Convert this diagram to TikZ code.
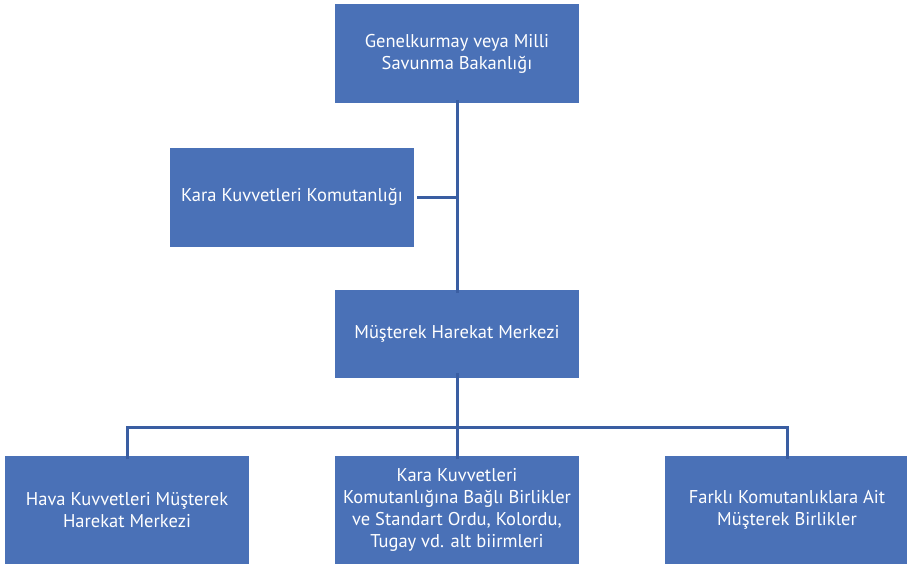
\documentclass[tikz,border=0pt]{standalone}
\usepackage{fontspec}
\setmainfont{PT Sans}
\definecolor{boxblue}{HTML}{4A71B7}
\definecolor{linkblue}{HTML}{3A5EA2}
\begin{document}
\begin{tikzpicture}[x=1pt,y=-1pt,
  unit/.style={fill=boxblue, draw=none, text=white, minimum width=244pt,
    align=center, font=\fontsize{18.5}{22}\selectfont, inner sep=0pt},
  link/.style={draw=linkblue, line width=3pt}]
  \useasboundingbox (0,0) rectangle (907,567);
  % boxes
  \node[unit, minimum height=99pt] (gk) at (457,53.5) {Genelkurmay veya Milli\\Savunma Bakanlığı};
  \node[unit, minimum height=99pt] (kkk) at (292,197) {Kara Kuvvetleri Komutanlığı};
  \node[unit, minimum height=88pt] (mhm) at (457,334) {Müşterek Harekat Merkezi};
  \node[unit, minimum height=108pt] (hava) at (127,510) {Hava Kuvvetleri Müşterek\\Harekat Merkezi};
  \node[unit, minimum height=108pt] (kara) at (457,510) {Kara Kuvvetleri\\Komutanlığına Bağlı Birlikler\\ve Standart Ordu, Kolordu,\\Tugay vd. alt biirmleri};
  \node[unit, minimum height=108pt] (fark) at (787,510) {Farklı Komutanlıklara Ait\\Müşterek Birlikler};
  % junctions
  \coordinate (j1) at (kkk.east -| gk.south);
  \coordinate (bus) at (457,427);
  \coordinate (busL) at (127,427);
  \coordinate (busR) at (787,427);
  % connectors
  \draw[link] ([yshift=3pt]gk.south) -- ([yshift=-3pt]mhm.north);
  \draw[link] ([xshift=3pt]kkk.east) -- (j1);
  \draw[link] ([yshift=5pt]mhm.south) -- (bus);
  \draw[link] ([yshift=-3pt]hava.north) -- (busL) -- (busR) -- ([yshift=-3pt]fark.north);
  \draw[link] (bus) -- ([yshift=-3pt]kara.north);
\end{tikzpicture}
\end{document}
